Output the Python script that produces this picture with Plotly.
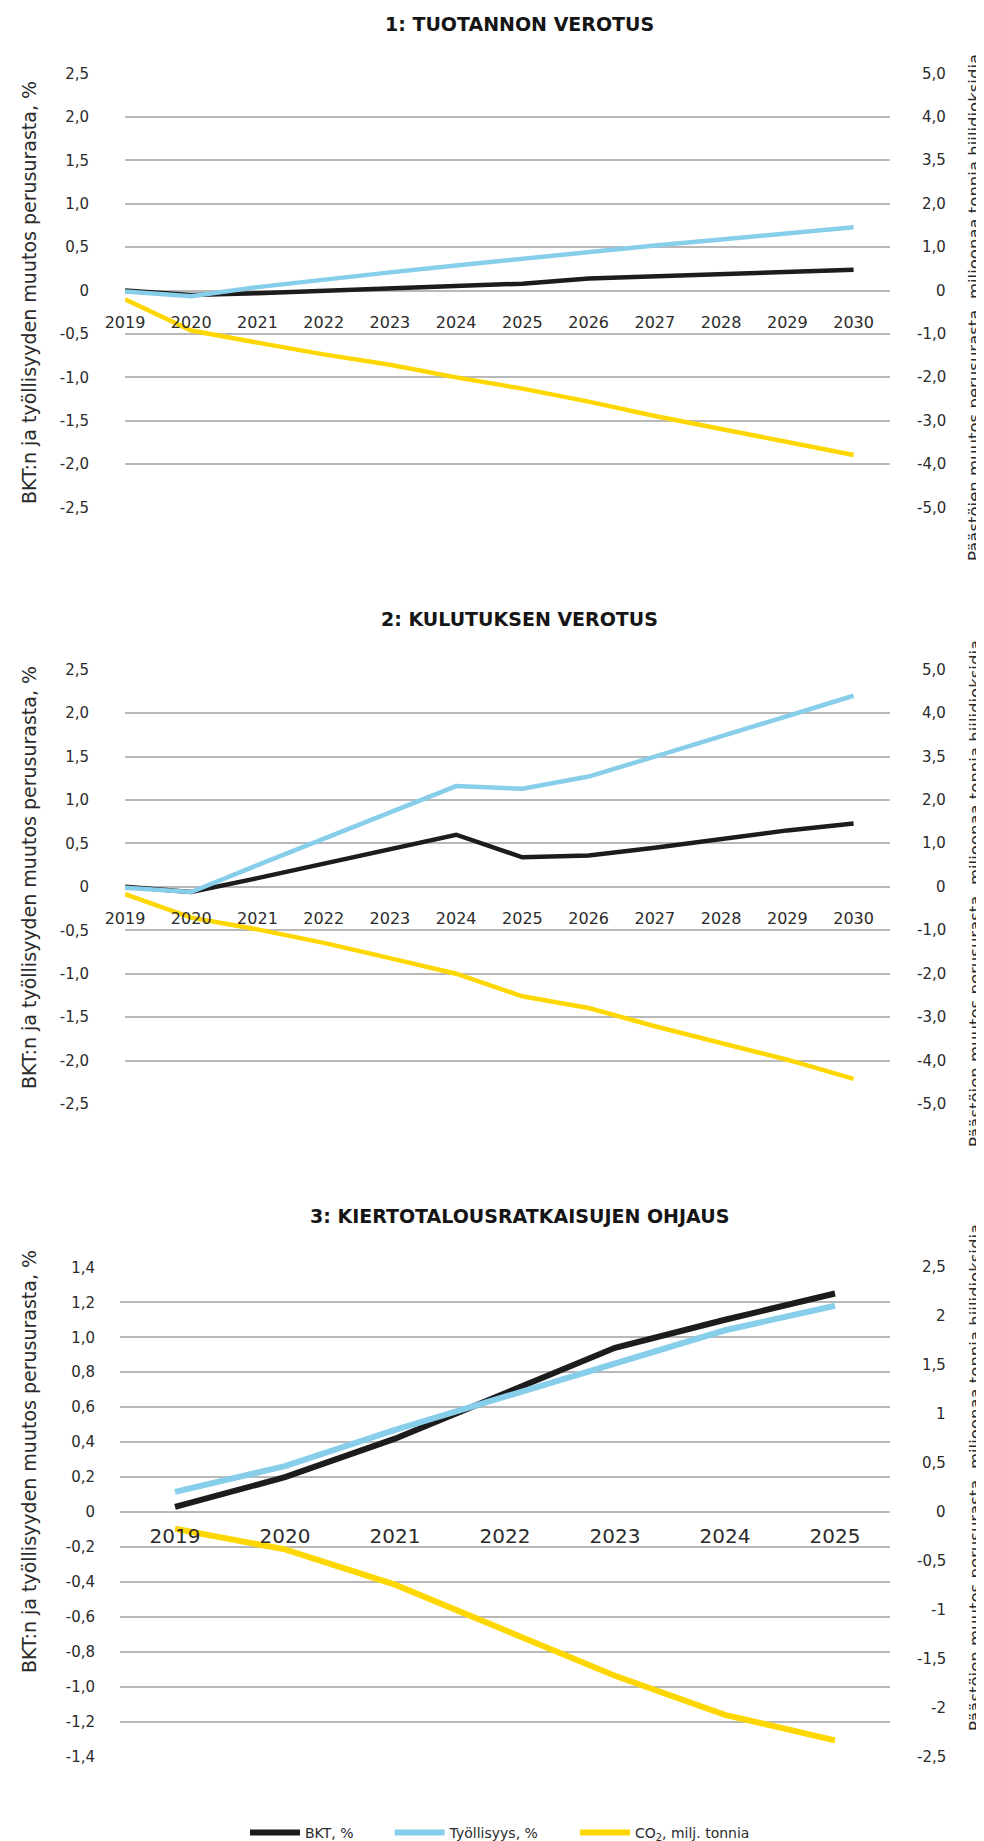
import plotly.graph_objects as go

W, H = 984, 1841

YEARS_A = ["2019", "2020", "2021", "2022", "2023", "2024", "2025",
           "2026", "2027", "2028", "2029", "2030"]
YEARS_B = ["2019", "2020", "2021", "2022", "2023", "2024", "2025"]

# 1: tuotannon verotus
BKT_1 = [0.0, -0.05, -0.03, 0.0, 0.03, 0.06, 0.08, 0.14, 0.165, 0.19, 0.215, 0.24]
TYO_1 = [-0.01, -0.065, 0.04, 0.13, 0.21, 0.29, 0.37, 0.45, 0.52, 0.59, 0.66, 0.73]
CO2_1 = [-0.2, -0.92, -1.2, -1.47, -1.71, -2.0, -2.26, -2.56, -2.89, -3.2, -3.49, -3.79]

# 2: kulutuksen verotus
BKT_2 = [0.0, -0.06, 0.1, 0.27, 0.43, 0.6, 0.34, 0.36, 0.45, 0.55, 0.65, 0.73]
TYO_2 = [-0.01, -0.06, 0.25, 0.55, 0.86, 1.16, 1.13, 1.27, 1.5, 1.73, 1.96, 2.2]
CO2_2 = [-0.17, -0.71, -0.98, -1.29, -1.64, -2.0, -2.52, -2.79, -3.21, -3.59, -3.98, -4.42]

# 3: kiertotalousratkaisujen ohjaus
BKT_3 = [0.03, 0.2, 0.42, 0.68, 0.94, 1.1, 1.25]
TYO_3 = [0.116, 0.263, 0.47, 0.66, 0.85, 1.04, 1.18]
CO2_3 = [-0.17, -0.38, -0.74, -1.21, -1.67, -2.07, -2.33]

LEFT_TICKS_A = [2.5, 2.0, 1.5, 1.0, 0.5, 0, -0.5, -1.0, -1.5, -2.0, -2.5]
LEFT_TEXT_A = ["2,5", "2,0", "1,5", "1,0", "0,5", "0", "-0,5", "-1,0", "-1,5", "-2,0", "-2,5"]
RIGHT_TICKS_A = [5, 4, 3, 2, 1, 0, -1, -2, -3, -4, -5]
RIGHT_TEXT_A = ["5,0", "4,0", "3,5", "2,0", "1,0", "0", "-1,0", "-2,0", "-3,0", "-4,0", "-5,0"]

LEFT_TICKS_B = [1.4, 1.2, 1.0, 0.8, 0.6, 0.4, 0.2, 0, -0.2, -0.4, -0.6, -0.8, -1.0, -1.2, -1.4]
LEFT_TEXT_B = ["1,4", "1,2", "1,0", "0,8", "0,6", "0,4", "0,2", "0",
               "-0,2", "-0,4", "-0,6", "-0,8", "-1,0", "-1,2", "-1,4"]
RIGHT_TICKS_B = [2.5, 2, 1.5, 1, 0.5, 0, -0.5, -1, -1.5, -2, -2.5]
RIGHT_TEXT_B = ["2,5", "2", "1,5", "1", "0,5", "0", "-0,5", "-1", "-1,5", "-2", "-2,5"]

TITLES = ["1: TUOTANNON VEROTUS", "2: KULUTUKSEN VEROTUS", "3: KIERTOTALOUSRATKAISUJEN OHJAUS"]
LEFT_TITLE = "BKT:n ja työllisyyden muutos perusurasta, %"
RIGHT_TITLE = "Päästöjen muutos perusurasta, miljoonaa tonnia hiilidioksidia"
NAMES = ["BKT, %", "Työllisyys, %", "CO<sub>2</sub>, milj. tonnia"]

BLACK = "#1c1c1c"
BLUE = "#87ceeb"
YELLOW = "#ffd700"
GRID = "#b8b8b8"
TXT = "#2b2b2b"
FONT = "DejaVu Sans"
PAD = "\u00a0" * 7


def fx(px):
    return px / W


def fy(px):
    return 1 - px / H


fig = go.Figure()

panels = [
    dict(xd=(117, 882), top=65.7, bot=499.5, years=YEARS_A,
         data=(BKT_1, TYO_1, CO2_1), lw=4.5, xr=[0, 11.55],
         lt=(LEFT_TICKS_A, LEFT_TEXT_A), rt=(RIGHT_TICKS_A, RIGHT_TEXT_A),
         lr=[-2.5, 2.5], rr=[-5, 5], xfs=16, tlen=32, xtl=17,
         title_y=16, ltitle_y=285, rtitle_y=300),
    dict(xd=(117, 882), top=661.7, bot=1096, years=YEARS_A,
         data=(BKT_2, TYO_2, CO2_2), lw=4.5, xr=[0, 11.55],
         lt=(LEFT_TICKS_A, LEFT_TEXT_A), rt=(RIGHT_TICKS_A, RIGHT_TEXT_A),
         lr=[-2.5, 2.5], rr=[-5, 5], xfs=16, tlen=32, xtl=17,
         title_y=611, ltitle_y=870, rtitle_y=886),
    dict(xd=(112, 882), top=1259.3, bot=1749, years=YEARS_B,
         data=(BKT_3, TYO_3, CO2_3), lw=6, xr=[-0.5, 6.5],
         lt=(LEFT_TICKS_B, LEFT_TEXT_B), rt=(RIGHT_TICKS_B, RIGHT_TEXT_B),
         lr=[-1.4, 1.4], rr=[-2.5, 2.5], xfs=20, tlen=21, xtl=6,
         title_y=1208, ltitle_y=1454, rtitle_y=1470),
]

annotations = []
for i, p in enumerate(panels):
    n = i + 1
    xa = "x" if n == 1 else f"x{n}"
    ya = "y" if n == 1 else f"y{2 * n - 1}"
    ya_r = f"y{2 * n}"
    bkt, tyo, co2 = p["data"]
    show = n == 3
    fig.add_trace(go.Scatter(x=p["years"], y=bkt, name=NAMES[0] + PAD, mode="lines",
                             line=dict(color=BLACK, width=p["lw"]),
                             xaxis=xa, yaxis=ya, showlegend=show))
    fig.add_trace(go.Scatter(x=p["years"], y=tyo, name=NAMES[1] + PAD, mode="lines",
                             line=dict(color=BLUE, width=p["lw"]),
                             xaxis=xa, yaxis=ya, showlegend=show))
    fig.add_trace(go.Scatter(x=p["years"], y=co2, name=NAMES[2], mode="lines",
                             line=dict(color=YELLOW, width=p["lw"]),
                             xaxis=xa, yaxis=ya_r, showlegend=show))

    lo, hi = p["lr"]
    zero_px = p["bot"] - (0 - lo) / (hi - lo) * (p["bot"] - p["top"])
    xkey = "xaxis" if n == 1 else f"xaxis{n}"
    ykey = "yaxis" if n == 1 else f"yaxis{2 * n - 1}"
    yrkey = f"yaxis{2 * n}"

    fig.layout[xkey] = dict(
        domain=[fx(p["xd"][0]), fx(p["xd"][1])], anchor="free", position=fy(zero_px),
        type="category", range=p["xr"], showgrid=False, showline=False, zeroline=False,
        ticks="outside", ticklen=p["xtl"], tickcolor="rgba(0,0,0,0)", automargin=False,
        tickfont=dict(family=FONT, size=p["xfs"], color=TXT),
    )
    fig.layout[ykey] = dict(
        domain=[fy(p["bot"]), fy(p["top"])], anchor=xa, range=p["lr"],
        tickvals=p["lt"][0], ticktext=p["lt"][1], automargin=False,
        showgrid=True, gridcolor=GRID, gridwidth=1.5,
        zeroline=True, zerolinecolor=GRID, zerolinewidth=1.5, showline=False,
        ticks="outside", ticklen=p["tlen"], tickcolor="rgba(0,0,0,0)",
        tickfont=dict(family=FONT, size=15, color=TXT),
    )
    fig.layout[yrkey] = dict(
        overlaying=ya, side="right", anchor=xa, range=p["rr"], automargin=False,
        showticklabels=False, showgrid=False, zeroline=False, showline=False, ticks="",
    )

    # right-hand tick labels are right-aligned in the original
    for val, txt in zip(p["rt"][0], p["rt"][1]):
        annotations.append(dict(text=txt, x=fx(940), y=val, xref="paper", yref=ya_r,
                                showarrow=False, xanchor="right", yanchor="middle",
                                font=dict(family=FONT, size=15, color=TXT)))

    annotations.append(dict(text=TITLES[i], x=fx(511), y=fy(p["title_y"]),
                            xref="paper", yref="paper", showarrow=False,
                            xanchor="center", yanchor="middle",
                            font=dict(family=FONT, size=19, color="#151515", weight="bold")))
    annotations.append(dict(text=LEFT_TITLE, x=fx(21), y=fy(p["ltitle_y"]),
                            xref="paper", yref="paper", showarrow=False, textangle=-90,
                            xanchor="center", yanchor="middle",
                            font=dict(family=FONT, size=19, color=TXT)))
    annotations.append(dict(text=RIGHT_TITLE, x=fx(967), y=fy(p["rtitle_y"]),
                            xref="paper", yref="paper", showarrow=False, textangle=-90,
                            xanchor="center", yanchor="middle",
                            font=dict(family=FONT, size=16.5, color=TXT)))

fig.update_layout(
    width=W, height=H,
    margin=dict(l=0, r=0, t=0, b=0, autoexpand=False),
    paper_bgcolor="white", plot_bgcolor="white",
    annotations=annotations,
    showlegend=True,
    legend=dict(orientation="h", x=0.5, xanchor="center", y=0, yanchor="bottom",
                font=dict(family=FONT, size=14, color=TXT), itemwidth=50),
)

fig.write_html("out.html")
